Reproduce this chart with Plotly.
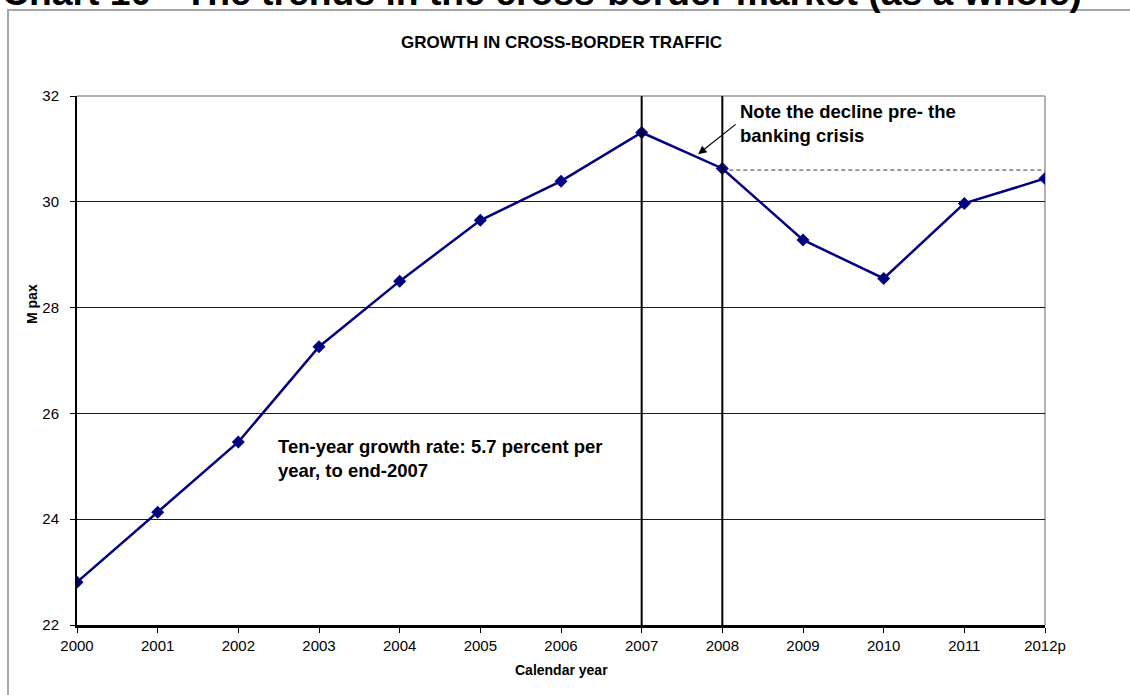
import plotly.graph_objects as go

# Cross-border passenger traffic, millions of passengers per calendar year
YEARS = [2000, 2001, 2002, 2003, 2004, 2005, 2006, 2007, 2008, 2009, 2010, 2011, 2012]
YEAR_LABELS = ["2000", "2001", "2002", "2003", "2004", "2005", "2006",
               "2007", "2008", "2009", "2010", "2011", "2012p"]
M_PAX = [22.81, 24.13, 25.46, 27.26, 28.50, 29.65, 30.39,
         31.31, 30.63, 29.28, 28.55, 29.97, 30.44]
Y_TICKS = [22, 24, 26, 28, 30, 32]
MARKED_YEARS = [2007, 2008]
PRE_CRISIS_LEVEL = 30.6

FONT = "Liberation Sans, Arial, sans-serif"
W, H = 1130, 695
L, R, T, B = 77, 85, 96, 70

def px(x):
    return (x - L) / (W - L - R)

def py(y):
    return (H - B - y) / (H - T - B)

fig = go.Figure()

fig.add_trace(go.Scatter(
    x=YEARS, y=M_PAX, mode="lines+markers",
    line=dict(color="#000080", width=2.5),
    marker=dict(symbol="diamond", size=10, color="#000080"),
    hoverinfo="x+y", showlegend=False,
))

shapes = []
# vertical markers around the crisis years
for yr in MARKED_YEARS:
    shapes.append(dict(type="line", xref="x", yref="paper", x0=yr, x1=yr, y0=0, y1=1,
                       line=dict(color="black", width=2), layer="above"))
# pre-crisis level carried forward
shapes.append(dict(type="line", xref="x", yref="y", x0=2008, x1=YEARS[-1],
                   y0=PRE_CRISIS_LEVEL, y1=PRE_CRISIS_LEVEL,
                   line=dict(color="#333333", width=1, dash="4px,3px"), layer="below"))
# plot-area border (top and right)
shapes.append(dict(type="line", xref="paper", yref="paper", x0=0, x1=1, y0=1, y1=1,
                   line=dict(color="#999999", width=1.5), layer="below"))
shapes.append(dict(type="line", xref="paper", yref="paper", x0=1, x1=1, y0=0, y1=1,
                   line=dict(color="#999999", width=1.5), layer="below"))
# chart frame
shapes.append(dict(type="rect", xref="paper", yref="paper",
                   x0=px(8), x1=px(1140), y0=py(10), y1=py(705),
                   line=dict(color="#a6a6a6", width=2), layer="below"))

annotations = [
    dict(text="<b>Chart 10 - The trends in the cross-border market (as a whole)</b>",
         xref="paper", yref="paper", x=px(0), y=py(-8), xanchor="left", yanchor="middle",
         showarrow=False, font=dict(family=FONT, size=37.3, color="black")),
    dict(text="<b>GROWTH IN CROSS-BORDER TRAFFIC</b>",
         xref="paper", yref="paper", x=px(561), y=py(43), xanchor="center", yanchor="middle",
         showarrow=False, font=dict(family=FONT, size=17, color="black")),
    dict(text="<b>M pax</b>", textangle=-90,
         xref="paper", yref="paper", x=px(32), y=py(304), xanchor="center", yanchor="middle",
         showarrow=False, font=dict(family=FONT, size=14, color="black")),
    dict(text="<b>Calendar year</b>",
         xref="paper", yref="paper", x=px(561), y=py(670), xanchor="center", yanchor="middle",
         showarrow=False, font=dict(family=FONT, size=14, color="black")),
    dict(text="<b>Note the decline pre- the<br>banking crisis</b>",
         xref="paper", yref="paper", x=px(738), y=py(99), xanchor="left", yanchor="top",
         align="left", showarrow=False, font=dict(family=FONT, size=18.5, color="black")),
    dict(text="", xref="x", yref="y", x=2007.70, y=30.90,
         ax=39, ay=-31, axref="pixel", ayref="pixel",
         showarrow=True, arrowhead=2, arrowsize=1.4, arrowwidth=1.2, arrowcolor="black"),
    dict(text="<b>Ten-year growth rate: 5.7 percent per<br>year, to end-2007</b>",
         xref="paper", yref="paper", x=px(276), y=py(434), xanchor="left", yanchor="top",
         align="left", showarrow=False, font=dict(family=FONT, size=18.5, color="black")),
]

fig.update_layout(
    width=W, height=H,
    margin=dict(l=L, r=R, t=T, b=B, pad=0),
    paper_bgcolor="white", plot_bgcolor="white",
    font=dict(family=FONT, size=15, color="black"),
    shapes=shapes, annotations=annotations,
    xaxis=dict(
        range=[YEARS[0], YEARS[-1]], tickvals=YEARS, ticktext=YEAR_LABELS,
        showgrid=False, zeroline=False,
        showline=True, linecolor="black", linewidth=3,
        ticks="outside", ticklen=5, tickcolor="black", tickwidth=1,
        tickfont=dict(family=FONT, size=15), ticklabelstandoff=0,
    ),
    yaxis=dict(
        range=[22, 32], tickvals=Y_TICKS,
        showgrid=True, gridcolor="#1a1a1a", gridwidth=1, zeroline=False,
        showline=True, linecolor="black", linewidth=2,
        ticks="outside", ticklen=5, tickcolor="black", tickwidth=1,
        tickfont=dict(family=FONT, size=15), ticklabelstandoff=8,
    ),
)

fig.write_html("out.html")
